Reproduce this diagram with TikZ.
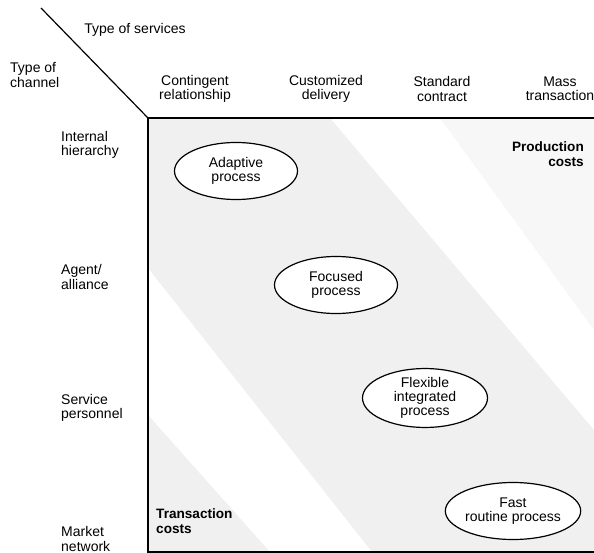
\documentclass[tikz,border=0pt]{standalone}
\usepackage{fontspec}
\setmainfont{Liberation Sans}
\usetikzlibrary{shapes.geometric}
\tikzset{
  lbl/.style={inner sep=0pt, align=center, font=\fontsize{14}{14.3}\selectfont},
  lbll/.style={inner sep=0pt, align=left, anchor=west, font=\fontsize{14}{14.3}\selectfont},
  proc/.style={ellipse, draw=black, line width=1.2pt, fill=white, minimum width=123pt, minimum height=57pt, inner sep=0pt, align=center, font=\fontsize{14}{14.3}\selectfont},
  cost/.style={inner sep=0pt, font=\bfseries\fontsize{13.6}{14.8}\selectfont},
  shade/.style={fill=black!6, draw=none},
  frame/.style={line width=1.6pt, line cap=rect}
}
\begin{document}
\begin{tikzpicture}[x=1pt,y=-1pt]
\useasboundingbox (0,0) rectangle (594,553);
% shading
\fill[shade] (148,118) -- (330,118) -- (594,430) -- (594,552) -- (372,552) -- (148,268) -- cycle;
\fill[black!3] (440,118) -- (594,118) -- (594,330) -- cycle;
\fill[shade] (148,415) -- (148,552) -- (270,552) -- cycle;
% frame
\coordinate (corner) at (148,118);
\coordinate (diagend) at (41,8);
\coordinate (topright) at (594,118);
\coordinate (botleft) at (148,552);
\coordinate (botright) at (594,552);
\draw[frame] (topright) -- (corner) -- (botleft) -- (botright);
\draw[line width=1.2pt] (diagend) -- (corner);
% headings
\node[lbl] (services) at (135,30) {Type of services};
\node[lbll] (channel) at (10,75) {Type of\\channel};
\node[lbl] (c1) at (195,89) {Contingent\\relationship};
\node[lbl] (c2) at (326,89) {Customized\\delivery};
\node[lbl] (c3) at (442,89) {Standard\\contract};
\node[lbl] (c4) at (560,89) {Mass\\transaction};
\node[lbll] (r1) at (61,145) {Internal\\hierarchy};
\node[lbll] (r2) at (61,277) {Agent/\\alliance};
\node[lbll] (r3) at (61,408) {Service\\personnel};
\node[lbll] (r4) at (61,539) {Market\\network};
% processes
\node[proc] (p1) at (236,171) {Adaptive\\process};
\node[proc] (p2) at (336,285) {Focused\\process};
\node[proc, minimum width=125pt] (p3) at (425,398) {Flexible\\integrated\\process};
\node[proc, minimum width=124pt] (p4) at (513,511) {Fast\\routine process};
% costs
\node[cost, align=right, anchor=east] (prod) at (584,154) {Production\\costs};
\node[cost, align=left, anchor=west] (trans) at (156,521) {Transaction\\costs};
\end{tikzpicture}
\end{document}
